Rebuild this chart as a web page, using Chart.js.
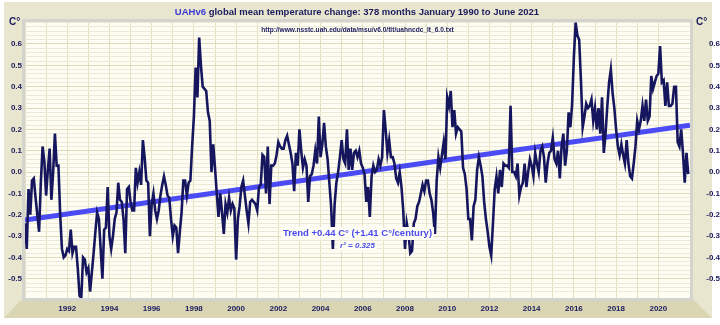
<!DOCTYPE html>
<html>
<head>
<meta charset="utf-8">
<script src="https://cdn.jsdelivr.net/npm/chart.js@4.4.0/dist/chart.umd.min.js"></script>
<style>
  html, body { margin: 0; padding: 0; background: #ffffff; }
  #wrap { width: 720px; height: 325px; }
</style>
</head>
<body>
<div id="wrap"><canvas id="chart" width="720" height="325"></canvas></div>
<script>
// monthly anomalies, C°
var anom1990s = [
  -0.24, -0.36, -0.08, -0.20, -0.04, -0.03, -0.12, -0.20, -0.28, -0.05, 0.12, 0.05,
  -0.11, 0.01, 0.11, -0.13, 0.00, 0.18, 0.03, 0.03, -0.20, -0.36, -0.40, -0.39,
  -0.36, -0.37, -0.27, -0.38, -0.35, -0.35, -0.45, -0.58, -0.59, -0.40, -0.41, -0.47,
  -0.45, -0.56, -0.47, -0.38, -0.28, -0.19, -0.22, -0.36, -0.50, -0.27, -0.26, -0.07,
  -0.30, -0.36, -0.30, -0.22, -0.19, -0.05, -0.13, -0.14, -0.22, -0.38, -0.08, -0.07,
  -0.14, -0.18, -0.18, 0.02, -0.05, 0.00, -0.06, 0.15, 0.07, -0.04, -0.05, -0.30,
  -0.15, -0.10, -0.18, -0.22, -0.18, -0.11, -0.06, -0.02, -0.06, -0.11, -0.12, -0.22,
  -0.30, -0.25, -0.26, -0.38, -0.28, -0.19, -0.04, -0.04, -0.11, -0.05, -0.04, 0.12,
  0.26, 0.49, 0.35, 0.63, 0.50, 0.40, 0.39, 0.38, 0.28, 0.24, 0.00, 0.13,
  0.02, -0.10, -0.21, -0.10, -0.19, -0.29, -0.15, -0.19, -0.12, -0.18, -0.15, -0.17
];
var anom2000s = [
  -0.41, -0.22, -0.16, -0.07, -0.04, -0.11, -0.18, -0.24, -0.14, -0.13, -0.14, -0.15,
  -0.18, -0.07, -0.06, 0.08, 0.07, -0.10, 0.12, -0.15, 0.03, 0.03, 0.04, 0.08,
  0.14, 0.12, 0.11, 0.11, 0.15, 0.17, 0.13, 0.09, 0.04, -0.09, 0.09, 0.03,
  0.20, 0.10, 0.02, 0.06, 0.03, -0.14, -0.02, -0.01, 0.03, 0.10, 0.04, 0.26,
  0.07, 0.13, 0.23, 0.12, 0.06, -0.05, -0.16, -0.36, -0.15, -0.05, 0.00, 0.07,
  0.15, 0.06, 0.04, 0.20, 0.01, 0.11, 0.01, 0.09, 0.10, 0.07, 0.10, 0.04,
  0.02, -0.01, -0.14, -0.07, -0.21, -0.02, 0.03, 0.00, 0.01, 0.06, 0.03, 0.07,
  0.29, 0.20, 0.09, 0.15, 0.07, 0.07, 0.04, -0.03, -0.05, 0.00, -0.07, -0.18,
  -0.36, -0.24, -0.29, -0.38, -0.37, -0.24, -0.22, -0.16, -0.14, -0.10, -0.06, -0.09,
  -0.04, -0.04, -0.10, -0.13, -0.19, -0.29, -0.04, 0.07, 0.02, 0.08, 0.14, 0.06
];
var anom2010s = [
  0.35, 0.31, 0.38, 0.21, 0.29, 0.18, 0.21, 0.20, 0.19, 0.02, -0.01, -0.08,
  -0.22, -0.22, -0.32, -0.16, -0.13, 0.01, 0.07, 0.03, -0.02, -0.14, -0.22, -0.28,
  -0.35, -0.39, -0.24, -0.08, -0.02, -0.10, 0.01, -0.07, 0.04, 0.03, 0.03, 0.02,
  0.31, 0.00, 0.00, -0.02, 0.04, -0.11, -0.07, -0.05, 0.04, -0.07, 0.00, 0.06,
  0.03, -0.02, 0.09, 0.04, 0.00, 0.10, 0.12, 0.07, -0.05, 0.04, 0.09, 0.10,
  0.16, 0.06, 0.04, 0.10, -0.03, 0.12, 0.18, 0.03, 0.10, 0.28, 0.21, 0.32,
  0.54, 0.70, 0.64, 0.62, 0.43, 0.21, 0.26, 0.32, 0.30, 0.31, 0.34, 0.24,
  0.30, 0.20, 0.30, 0.18, 0.35, 0.09, 0.18, 0.31, 0.42, 0.48, 0.37, 0.30,
  0.20, 0.12, 0.08, 0.13, 0.08, 0.04, 0.15, 0.04, -0.02, -0.03, 0.04, 0.12,
  0.24, 0.20, 0.24, 0.31, 0.24, 0.34, 0.24, 0.26, 0.45, 0.39, 0.42, 0.45
];
var anom2020s = [
  0.46, 0.59, 0.42, 0.43, 0.31, 0.42, 0.31, 0.31, 0.32, 0.40, 0.40, 0.14,
  0.12, 0.20, 0.09, -0.05, 0.09, -0.01
];

var startYear = 1990;
var trendStart = -0.225;   // trend line value at Jan 1990
var trendEnd = 0.219;      // trend line value at mid 2021
var yearLabels = ["1992", "1994", "1996", "1998", "2000", "2002", "2004", "2006",
  "2008", "2010", "2012", "2014", "2016", "2018", "2020"];

var titleBlue = "UAHv6";
var titleRest = " global mean temperature change: 378 months January 1990 to June 2021";
var sourceUrl = "http://www.nsstc.uah.edu/data/msu/v6.0/tlt/uahncdc_lt_6.0.txt";
var trendText = "Trend +0.44 C° (+1.41 C°/century)";
var r2Text = "r² = 0.325";

var anomalies = anom1990s.concat(anom2000s, anom2010s, anom2020s);
var points = anomalies.map(function (v, i) {
  return { x: startYear + i / 12, y: v };
});

var NAVY = "#1b1b5e";
var FONT = "Arial, 'Liberation Sans', sans-serif";
var plotBg = "#fdfdf3";

var framePlugin = {
  id: "frame",
  beforeDraw: function (chart) {
    var ctx = chart.ctx, a = chart.chartArea;
    ctx.save();
    ctx.fillStyle = "#ffffff";
    ctx.fillRect(0, 0, chart.width, chart.height);
    ctx.fillStyle = "#e9e6cf";
    ctx.fillRect(4, 2, 708, 316);
    // floor strip under the plot
    ctx.fillStyle = "#dad6b4";
    ctx.beginPath();
    ctx.moveTo(a.left - 4, a.bottom + 2);
    ctx.lineTo(a.right + 4, a.bottom + 2);
    ctx.lineTo(712, 318);
    ctx.lineTo(4, 318);
    ctx.closePath();
    ctx.fill();
    ctx.fillStyle = plotBg;
    ctx.fillRect(a.left, a.top, a.right - a.left, a.bottom - a.top);
    ctx.restore();
  },
  afterDatasetsDraw: function (chart) {
    var ctx = chart.ctx, a = chart.chartArea;
    var cx = (a.left + a.right) / 2;
    ctx.save();
    // plot border
    ctx.strokeStyle = "#d4d4ce";
    ctx.lineWidth = 3;
    ctx.strokeRect(a.left - 1.5, a.top - 1.5, a.right - a.left + 3, a.bottom - a.top + 3);

    ctx.textBaseline = "middle";
    // trend annotation, boxed over the line
    ctx.font = "bold 9.5px " + FONT;
    var w = ctx.measureText(trendText).width;
    ctx.fillStyle = plotBg;
    ctx.fillRect(cx - w / 2 - 2, 227, w + 4, 13);
    ctx.fillStyle = "#4a4af0";
    ctx.textAlign = "center";
    ctx.fillText(trendText, cx, 233.5);
    ctx.font = "italic bold 8px " + FONT;
    w = ctx.measureText(r2Text).width;
    ctx.fillStyle = plotBg;
    ctx.fillRect(cx - w / 2 - 2, 241, w + 4, 10);
    ctx.fillStyle = "#4a4af0";
    ctx.fillText(r2Text, cx, 246);

    // source url
    ctx.font = "bold 6.6px " + FONT;
    ctx.fillStyle = NAVY;
    ctx.fillText(sourceUrl, cx, 30);

    // title in two colours
    ctx.font = "bold 9.5px " + FONT;
    var w1 = ctx.measureText(titleBlue).width;
    var w2 = ctx.measureText(titleRest).width;
    var x0 = 357 - (w1 + w2) / 2;
    ctx.textAlign = "left";
    ctx.fillStyle = "#3a3ad2";
    ctx.fillText(titleBlue, x0, 12);
    ctx.fillStyle = NAVY;
    ctx.fillText(titleRest, x0 + w1, 12);

    // unit labels
    ctx.font = "bold 10px " + FONT;
    ctx.fillText("C°", 9, 22);
    ctx.fillText("C°", 696, 22);
    ctx.restore();
  }
};

function yLabel(v) {
  var r = Math.round(v * 10);
  if (Math.abs(v * 10 - r) > 1e-6 || r < -5 || r > 6) return "";
  return (r / 10).toFixed(1);
}

function gridColor(ctx) {
  var v = ctx.tick ? ctx.tick.value : 0;
  var r = Math.round(v * 10);
  return Math.abs(v * 10 - r) < 1e-6 ? "#dedbbd" : "#ecead6";
}

new Chart(document.getElementById("chart"), {
  type: "line",
  data: {
    datasets: [
      {
        label: "UAH v6 TLT",
        data: points,
        borderColor: "#16165e",
        borderWidth: 2.6,
        pointRadius: 0,
        tension: 0,
        fill: false
      },
      {
        label: "Trend",
        data: [
          { x: startYear, y: trendStart },
          { x: 2021.5, y: trendEnd }
        ],
        borderColor: "#4b4bf5",
        borderWidth: 5,
        pointRadius: 0,
        fill: false
      }
    ]
  },
  options: {
    responsive: false,
    animation: false,
    events: [],
    layout: { padding: { top: 22 } },
    plugins: {
      legend: { display: false },
      tooltip: { enabled: false },
      title: { display: false }
    },
    scales: {
      x: {
        type: "linear",
        min: 1990,
        max: 2021.5,
        afterFit: function (s) { s.height = 27; },
        border: { display: false },
        grid: { color: "#e4e0c2", drawTicks: false, lineWidth: 1 },
        ticks: {
          stepSize: 1,
          autoSkip: false,
          maxRotation: 0,
          padding: 6,
          color: NAVY,
          font: { family: FONT, size: 8, weight: "bold" },
          callback: function (v) {
            var s = String(Math.round(v));
            return yearLabels.indexOf(s) >= 0 ? s : "";
          }
        }
      },
      y: {
        position: "left",
        min: -0.59,
        max: 0.703,
        afterFit: function (s) { s.width = 25; },
        border: { display: false },
        grid: { color: gridColor, drawTicks: false, lineWidth: 1 },
        ticks: {
          stepSize: 0.02,
          autoSkip: false,
          padding: 3,
          color: NAVY,
          font: { family: FONT, size: 8, weight: "bold" },
          callback: yLabel
        }
      },
      y2: {
        position: "right",
        min: -0.59,
        max: 0.703,
        afterFit: function (s) { s.width = 30; },
        border: { display: false },
        grid: { display: false, drawTicks: false },
        ticks: {
          stepSize: 0.02,
          autoSkip: false,
          padding: 2,
          crossAlign: "far",
          color: NAVY,
          font: { family: FONT, size: 8, weight: "bold" },
          callback: yLabel
        }
      }
    }
  },
  plugins: [framePlugin]
});
</script>
</body>
</html>
